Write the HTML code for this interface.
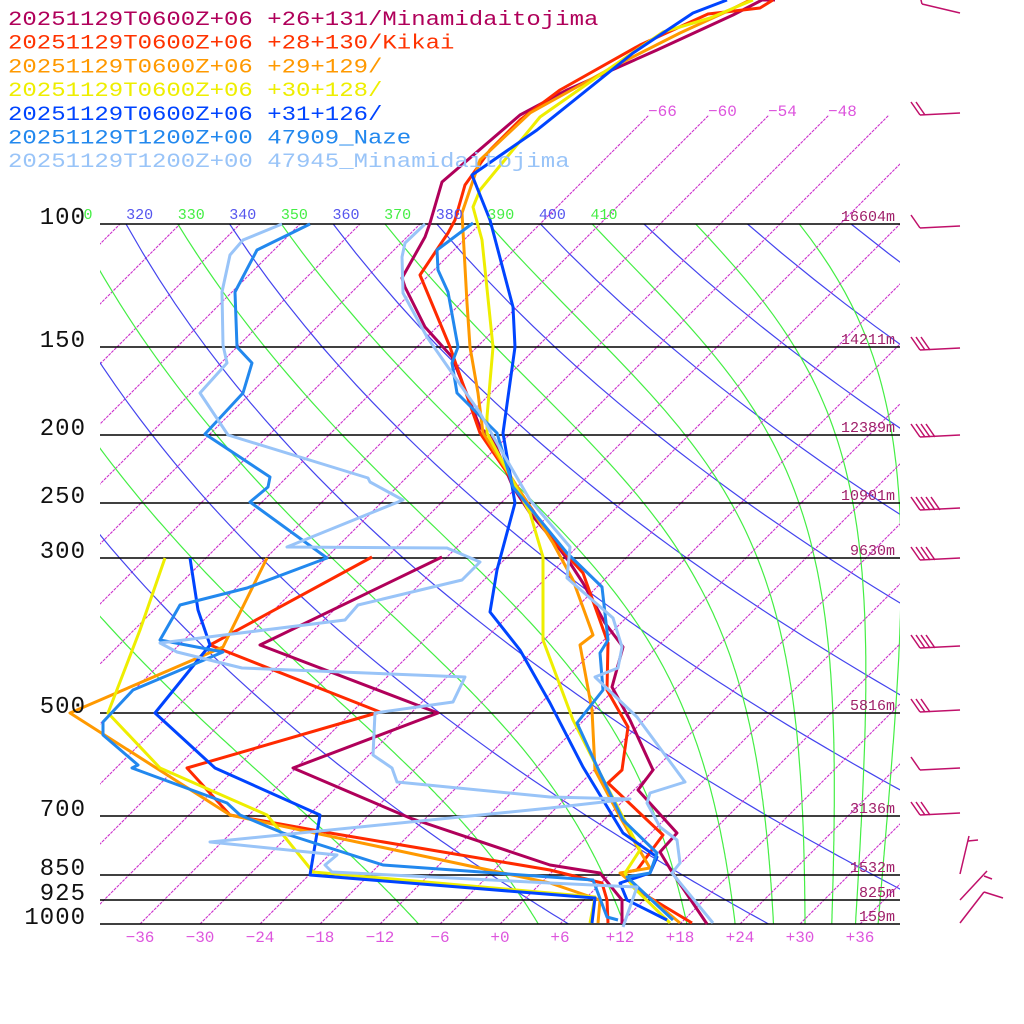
<!DOCTYPE html>
<html><head><meta charset="utf-8">
<style>
html,body{margin:0;padding:0;background:#fff;width:1024px;height:1024px;overflow:hidden}
svg{display:block}
text{font-family:"Liberation Mono",monospace}
</style></head>
<body>
<svg id="s" xmlns="http://www.w3.org/2000/svg" width="1024" height="1024" viewBox="0 0 1024 1024">
<defs><clipPath id="cp"><rect x="100" y="224" width="800" height="700"/></clipPath>
<clipPath id="cp2"><rect x="100" y="100" width="800" height="824"/></clipPath></defs>
<g id="grid"></g>
<g id="prof" fill="none" stroke-width="3" stroke-linejoin="round"></g>
<g id="txt"></g>
</svg>
<script>
var NS="http://www.w3.org/2000/svg";
function el(parent,tag,attrs,txt){var e=document.createElementNS(NS,tag);for(var k in attrs)e.setAttribute(k,attrs[k]);if(txt!==undefined)e.textContent=txt;parent.appendChild(e);return e;}
function Y(p){return 224+304*(Math.log(p)-Math.log(100));}
function X(Tc,y){return 500+10*Tc+(924-y);}
var G=document.getElementById('grid'),P=document.getElementById('prof'),T=document.getElementById('txt');
var gc=el(G,'g',{'clip-path':'url(#cp)'});
var gc2=el(G,'g',{'clip-path':'url(#cp2)'});
for(var t=-120;t<=60;t+=6){
  var yTop=(t>=-66)?115:224;
  el(t>=-66?gc2:gc,'line',{x1:X(t,924),y1:924,x2:X(t,yTop),y2:yTop,stroke:'#cc33cc','stroke-width':1.1,'stroke-dasharray':'3,1'});
}
function pathPts(pts){return pts.map(function(p,i){return (i?'L':'M')+p[0].toFixed(1)+' '+p[1].toFixed(1);}).join(' ');}
for(var th=280;th<=480;th+=20){
  var pts=[];for(var p=100;p<=1000;p+=10){var Tk=th*Math.pow(p/1000,0.2857);var y=Y(p);pts.push([X(Tk-273.15,y),y]);}
  el(gc,'path',{d:pathPts(pts),stroke:'#4444ee','stroke-width':1.2,fill:'none'});
}
function es(Tc){return 6.112*Math.exp(17.67*Tc/(Tc+243.5));}
for(var th=270;th<=450;th+=20){
  var Tk=th*Math.pow(0.1,0.2857);var pts=[];var p=100;
  while(p<=1000){var y=Y(p);pts.push([X(Tk-273.15,y),y]);
    for(var s=0;s<5;s++){var e=es(Tk-273.15);var rs=0.622*e/Math.max(p-e,1);
      var num=287*Tk+2.5e6*rs;var den=1004+2.5e6*2.5e6*rs*0.622/(287*Tk*Tk);
      Tk+=num/den/p*1;p+=1;}
  }
  el(gc,'path',{d:pathPts(pts),stroke:'#44ee44','stroke-width':1.2,fill:'none'});
}
var lv=[[100,'100','16604m'],[150,'150','14211m'],[200,'200','12389m'],[250,'250','10901m'],[300,'300','9630m'],[500,'500','5816m'],[700,'700','3136m'],[850,'850','1532m'],[925,'925','825m'],[1000,'1000','159m']];
lv.forEach(function(l){var y=Math.round(Y(l[0]));
  el(G,'line',{x1:100,y1:y,x2:900,y2:y,stroke:'#000','stroke-width':1.5});
  el(T,'text',{x:86,y:y,'font-size':24,'text-anchor':'end',fill:'#111','font-family':'"Liberation Sans",sans-serif','letter-spacing':'1'},l[1]);
  el(T,'text',{x:895,y:y-3,'font-size':15,'text-anchor':'end',fill:'#a0206a'},l[2]);
});
var thl=[310,320,330,340,350,360,370,380,390,400,410];
thl.forEach(function(v,i){var x=88+51.6*i;el(T,'text',{x:x,y:219,'font-size':15,'text-anchor':'middle',fill:(v/10)%2?'#44ee44':'#5555ee'},i==0?'0':String(v));});
for(var i=0;i<=12;i++){var v=-36+6*i;var s=v<0?('\u2212'+(-v)):('+'+v);
 el(T,'text',{x:140+60*i,y:942,'font-size':16,'text-anchor':'middle',fill:'#dd55dd'},s);}
[['-66',648],['-60',708],['-54',768],['-48',828]].forEach(function(a){el(T,'text',{x:a[1],y:116,'font-size':16,fill:'#dd55dd'},a[0].replace('-','\u2212'));});
var leg=[['20251129T0600Z+06 +26+131/Minamidaitojima','#b0005a'],['20251129T0600Z+06 +28+130/Kikai','#ff3300'],['20251129T0600Z+06 +29+129/','#ff9900'],['20251129T0600Z+06 +30+128/','#eeee00'],['20251129T0600Z+06 +31+126/','#0044ff'],['20251129T1200Z+00 47909_Naze','#2288ee'],['20251129T1200Z+00 47945_Minamidaitojima','#99c4f8']];
leg.forEach(function(l,i){el(T,'text',{x:8,y:25+23.7*i,'font-size':20,fill:l[1],textLength:l[0].length*14.4,lengthAdjust:'spacingAndGlyphs'},l[0]);});
var S=[
['#b0005a',[[775,0],[762,0],[733,15],[657,50],[567,90],[520,115],[442,182],[430,223],[425,237],[402,278],[405,287],[425,327],[452,357],[480,427],[493,440],[513,487],[530,513],[553,540],[570,563],[583,583],[605,623],[623,647],[612,687],[630,720],[653,770],[638,790],[677,833],[660,852],[672,872],[707,924]],
 [[442,557],[260,645],[438,713],[293,768],[410,818],[550,865],[600,873],[622,900],[622,924]]],
['#ff2a00',[[773,0],[760,8],[708,14],[640,45],[560,90],[520,120],[490,150],[465,185],[455,220],[448,233],[420,275],[450,347],[480,433],[553,540],[583,573],[608,643],[607,690],[628,727],[622,770],[608,783],[663,835],[637,870],[622,873],[637,890],[692,923]],
 [[372,557],[210,645],[380,712],[187,768],[230,815],[330,833],[550,870],[602,883],[607,900],[608,923]]],
['#ff9900',[[750,0],[730,10],[680,33],[613,67],[530,113],[480,160],[462,213],[467,303],[470,347],[478,393],[483,433],[553,543],[573,580],[593,635],[580,645],[592,710],[595,770],[620,817],[650,868],[620,873],[680,923]],
 [[267,558],[223,647],[70,713],[230,815],[550,883],[600,900],[598,923]]],
['#eeee00',[[753,0],[710,18],[663,32],[600,75],[540,117],[480,190],[473,207],[482,240],[493,347],[487,417],[487,433],[530,513],[543,557],[543,640],[573,720],[600,773],[640,850],[625,873],[633,887],[670,923]],
 [[165,558],[140,630],[108,713],[160,768],[267,815],[313,872],[595,897],[590,923]]],
['#0044ff',[[727,0],[693,13],[633,53],[537,130],[472,175],[490,220],[513,307],[515,347],[503,433],[515,503],[497,570],[490,612],[520,650],[550,703],[583,767],[623,833],[657,857],[650,873],[620,883],[627,900],[667,920]],
 [[190,558],[198,610],[210,645],[155,713],[215,768],[320,815],[310,875],[595,898],[592,923]]],
['#2288ee',[[473,223],[437,250],[438,270],[448,292],[458,347],[452,363],[457,393],[497,433],[513,487],[567,553],[602,587],[608,640],[600,653],[603,690],[577,723],[600,773],[623,820],[657,853],[650,873],[627,877],[673,920]],
 [[310,224],[257,250],[235,292],[237,347],[252,363],[243,393],[205,434],[270,477],[268,487],[250,502],[327,558],[247,588],[180,605],[160,640],[223,652],[133,690],[103,722],[103,735],[138,765],[132,768],[227,803],[240,815],[283,833],[383,865],[550,877],[593,880],[607,917],[618,920]]],
['#99c4f8',[[425,224],[405,243],[402,257],[403,293],[427,337],[450,370],[480,413],[497,443],[530,500],[570,547],[567,578],[613,618],[622,647],[618,668],[595,677],[637,717],[685,782],[650,793],[647,803],[660,827],[677,840],[680,863],[672,873],[713,923]],
 [[282,224],[243,240],[230,255],[222,292],[223,345],[227,363],[200,393],[228,435],[368,478],[370,482],[403,500],[287,547],[447,548],[480,562],[462,580],[358,605],[345,620],[160,643],[177,652],[242,668],[465,677],[453,702],[375,713],[373,755],[392,768],[397,782],[550,797],[630,799],[550,808],[210,842],[337,855],[325,865],[332,872],[550,883],[637,887],[623,927]]]
];
S.forEach(function(s){el(P,'path',{d:pathPts(s[1]),stroke:s[0]});el(P,'path',{d:pathPts(s[2]),stroke:s[0]});});
var W=el(G,'g',{stroke:'#c0106a','stroke-width':1.5,fill:'none'});
var barbs=[[12,1],[115,2],[228,1],[350,3],[437,4],[510,5],[560,4],[648,4],[712,3],[770,1],[815,3]];
el(W,'line',{x1:922,y1:4,x2:960,y2:13});el(W,'line',{x1:922,y1:4,x2:920,y2:-4});
barbs.slice(1).forEach(function(b){var y=b[0];el(W,'line',{x1:920,y1:y,x2:960,y2:y-2});
 for(var i=0;i<b[1];i++){var x=920+5*i;el(W,'line',{x1:x,y1:y,x2:x-9,y2:y-13});}});
[[960,874,969,836,968,841,978,840],[960,900,987,871,984,876,992,879],[960,923,984,892,984,892,1003,898]].forEach(function(a){
 el(W,'line',{x1:a[0],y1:a[1],x2:a[2],y2:a[3]});el(W,'line',{x1:a[4],y1:a[5],x2:a[6],y2:a[7]});});
</script>
</body></html>
